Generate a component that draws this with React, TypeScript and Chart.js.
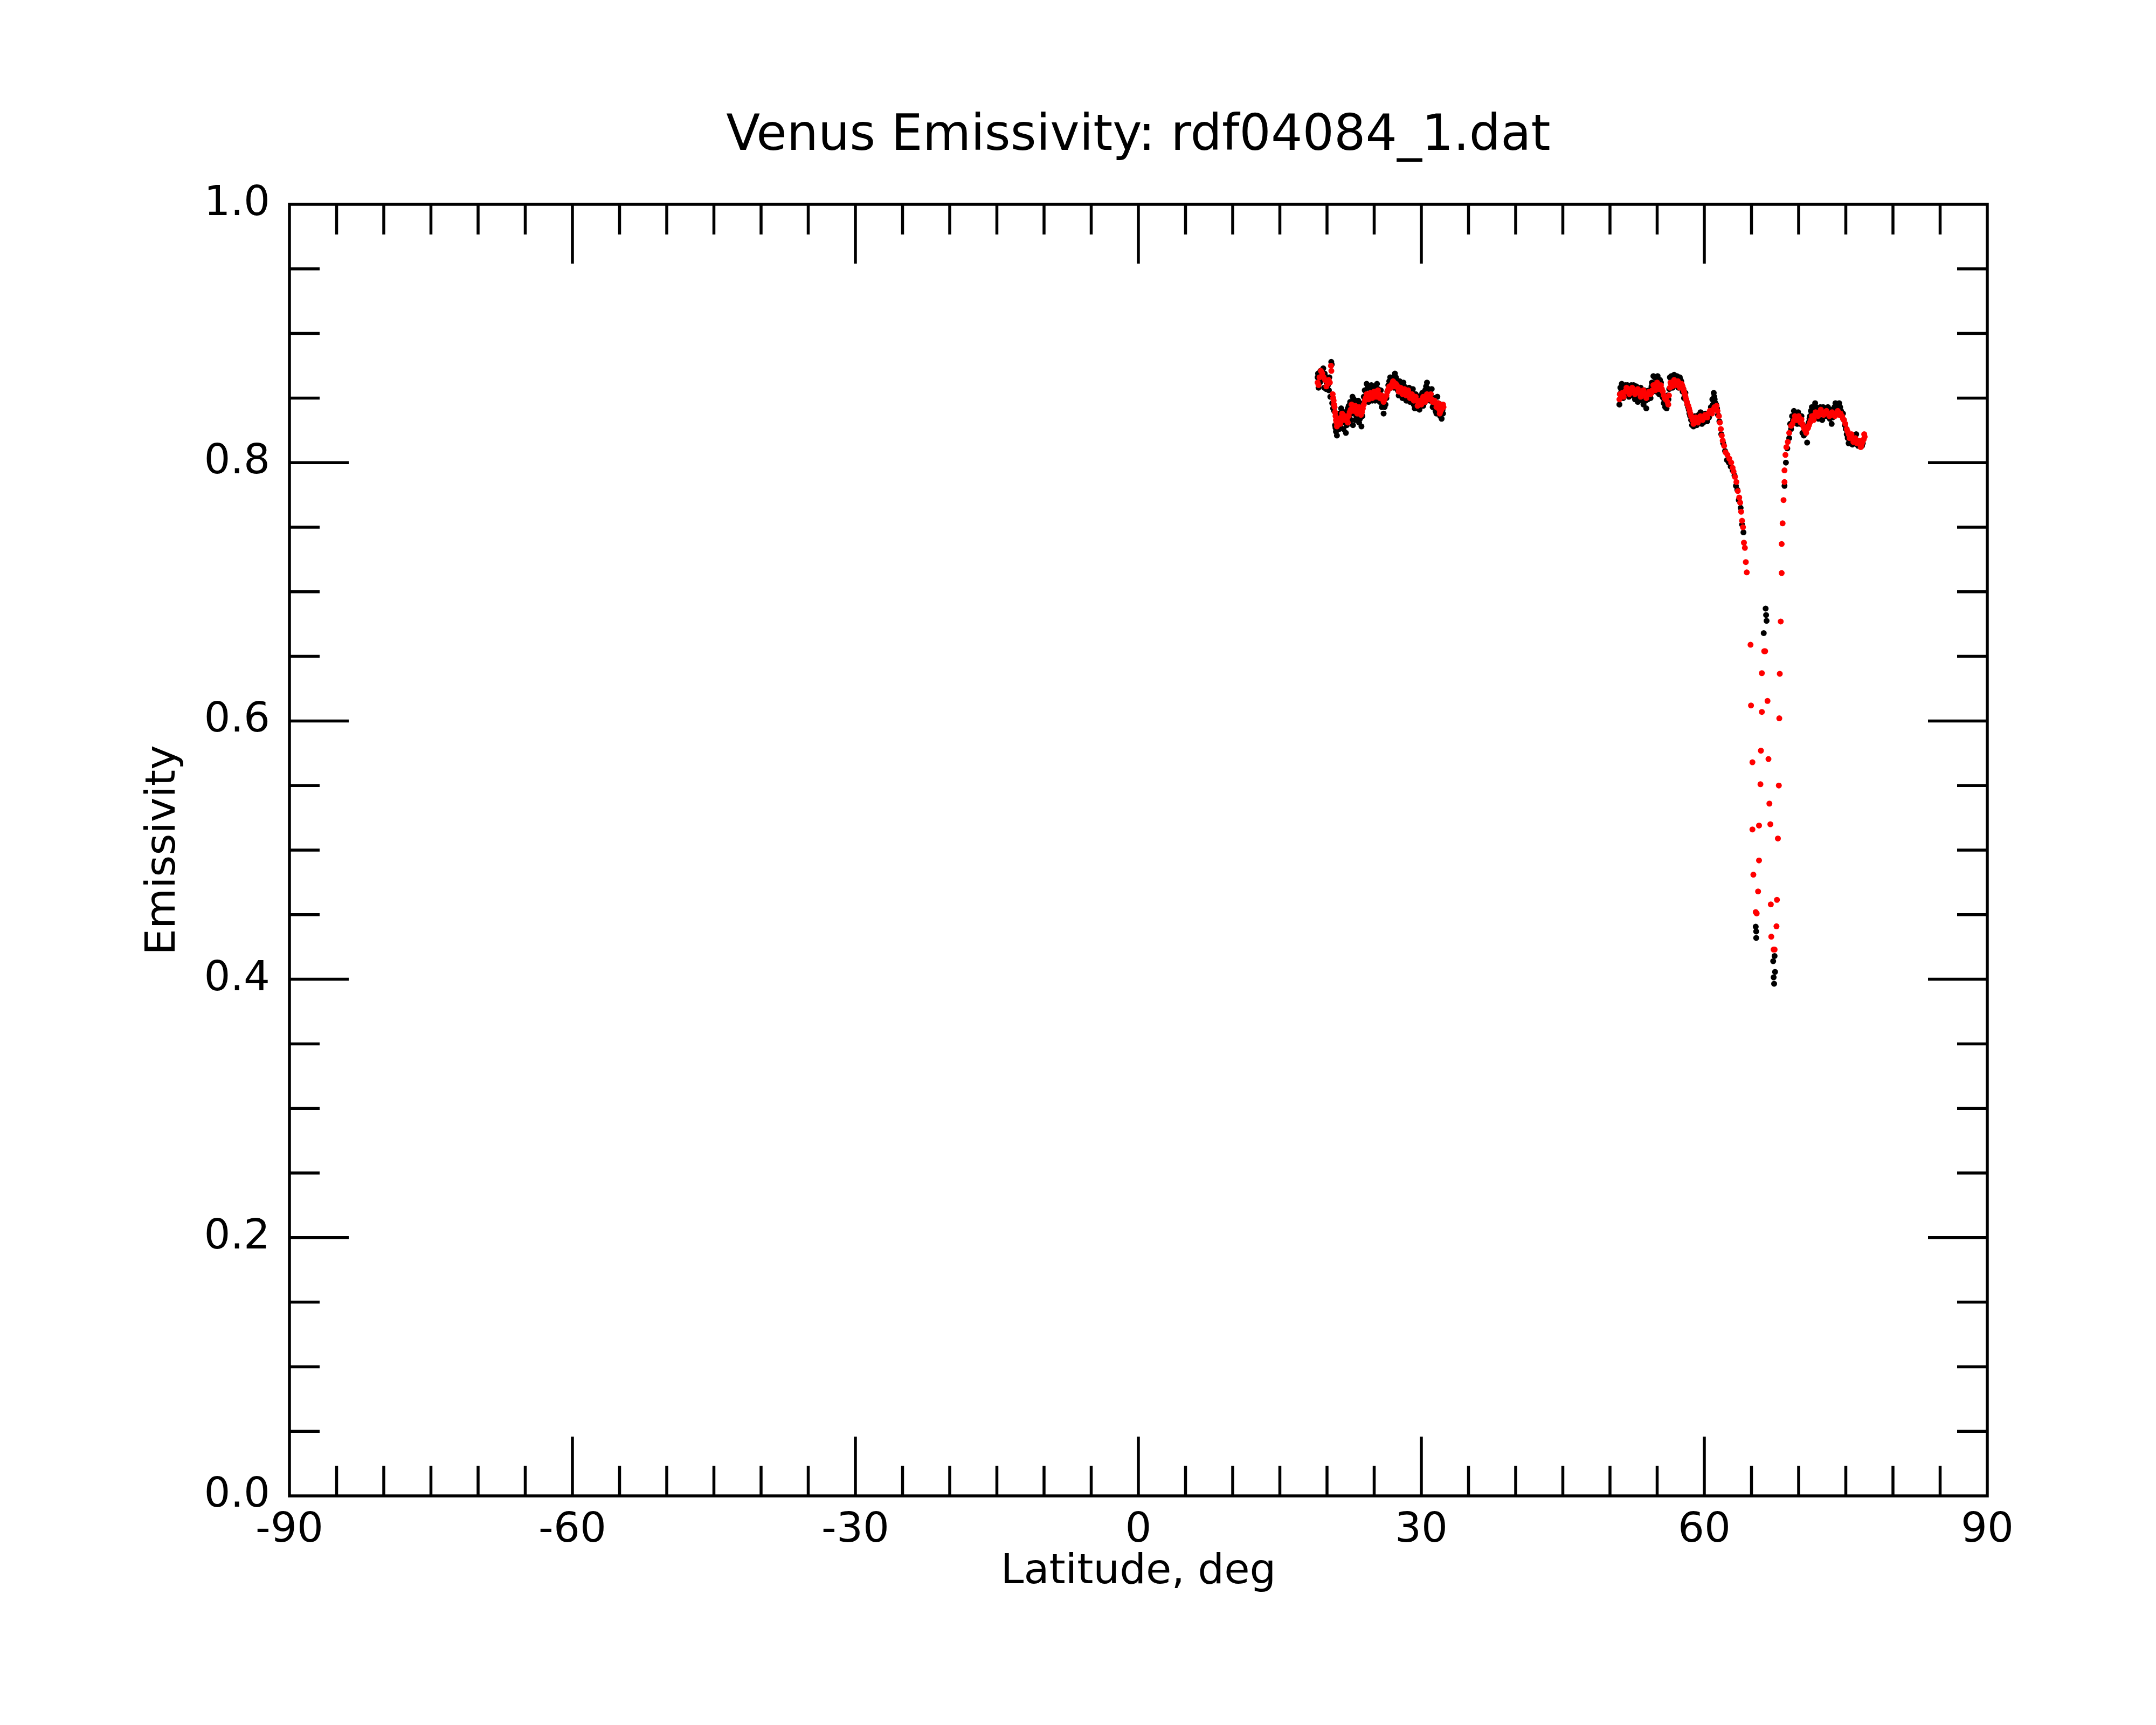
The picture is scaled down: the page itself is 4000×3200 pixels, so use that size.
import React, { useEffect, useRef } from "react";
import { Chart, registerables } from "chart.js";

Chart.register(...registerables);

const TITLE = "Venus Emissivity: rdf04084_1.dat";
const X_LABEL = "Latitude, deg";
const Y_LABEL = "Emissivity";

const X_MIN = -90;
const X_MAX = 90;
const X_MAJOR = 30;
const X_MINOR = 5;
const Y_MIN = 0;
const Y_MAX = 1;
const Y_MAJOR = 0.2;
const Y_MINOR = 0.05;

// Raw emissivity samples (black)
const rawLat = [
  19.0, 19.1, 19.3, 19.4, 19.6, 19.7, 19.9, 20.0, 20.2, 20.35, 20.45, 20.5, 20.55, 20.75, 20.85, 20.95,
  21.05, 21.15, 21.25, 21.4, 21.6, 21.75, 21.85, 22.0, 22.2, 22.35, 22.45, 22.6, 22.75, 22.85, 23.0, 23.2,
  23.4, 23.55, 23.65, 23.8, 24.0, 24.2, 24.4, 24.6, 24.8, 25.0, 25.2, 25.4, 25.6, 25.8, 26.0, 26.2,
  26.4, 26.6, 26.8, 27.0, 27.2, 27.4, 27.6, 27.8, 28.0, 28.2, 28.4, 28.6, 28.8, 29.0, 29.2, 29.4,
  29.6, 29.8, 30.0, 30.2, 30.4, 30.6, 30.8, 31.0, 31.2, 31.4, 31.6, 31.8, 32.0, 32.15, 32.3,
  51.0, 51.1, 51.25, 51.4, 51.55, 51.7, 51.85, 52.0, 52.15, 52.35, 52.5, 52.65, 52.8, 52.95, 53.1, 53.25,
  53.4, 53.55, 53.7, 53.85, 54.0, 54.15, 54.3, 54.45, 54.6, 54.75, 54.9, 55.05, 55.2, 55.4, 55.55, 55.7,
  55.85, 56.0, 56.2, 56.35, 56.5, 56.65, 56.8, 56.95, 57.1, 57.25, 57.4, 57.55, 57.7, 57.85, 58.0, 58.2,
  58.35, 58.5, 58.7, 58.85, 59.0, 59.2, 59.4, 59.6, 59.75, 59.9, 60.1, 60.3, 60.5, 60.7, 60.85, 61.0,
  61.1, 61.25, 61.45, 61.6, 61.8, 62.0, 62.2, 62.4, 62.6, 62.8, 63.0, 63.2, 63.35, 63.5, 63.65, 63.85,
  64.0, 64.15,
  66.3, 66.5, 66.55, 66.6, 65.45, 65.5, 65.5, 67.3, 67.5, 67.35, 67.4, 67.45,
  68.5, 68.65, 68.8, 69.0, 69.1, 69.3, 69.5, 69.7, 69.85, 70.0, 70.2, 70.4, 70.55, 70.7, 70.9, 71.05,
  71.2, 71.4, 71.6, 71.75, 71.9, 72.1, 72.3, 72.5, 72.7, 72.9, 73.1, 73.3, 73.5, 73.7, 73.9, 74.1,
  74.3, 74.5, 74.7, 74.9, 75.1, 75.3, 75.5, 75.7, 75.9, 76.1, 76.3, 76.5, 76.65, 76.8,
];
const rawEmis = [
  0.866, 0.858, 0.871, 0.864, 0.873, 0.858, 0.857, 0.866, 0.856, 0.851, 0.878, 0.876, 0.846, 0.84, 0.829, 0.824,
  0.821, 0.826, 0.838, 0.828, 0.84, 0.826, 0.831, 0.823, 0.842, 0.836, 0.847, 0.838, 0.829, 0.849, 0.833, 0.845,
  0.831, 0.838, 0.828, 0.846, 0.856, 0.861, 0.847, 0.857, 0.848, 0.859, 0.85, 0.857, 0.847, 0.843, 0.838, 0.845,
  0.855, 0.863, 0.858, 0.866, 0.869, 0.864, 0.852, 0.86, 0.85, 0.859, 0.848, 0.857, 0.847, 0.855, 0.845, 0.853,
  0.842, 0.841, 0.852, 0.844, 0.856, 0.862, 0.857, 0.853, 0.843, 0.85, 0.838, 0.846, 0.836, 0.834, 0.838,
  0.845, 0.858, 0.861, 0.85, 0.858, 0.852, 0.86, 0.851, 0.857, 0.852, 0.86, 0.849, 0.859, 0.847, 0.852, 0.858,
  0.848, 0.845, 0.851, 0.842, 0.849, 0.856, 0.85, 0.862, 0.867, 0.866, 0.855, 0.867, 0.853, 0.862, 0.851, 0.846,
  0.843, 0.842, 0.849, 0.866, 0.867, 0.858, 0.868, 0.86, 0.867, 0.858, 0.866, 0.863, 0.855, 0.85, 0.854, 0.845,
  0.841, 0.836, 0.829, 0.828, 0.836, 0.829, 0.837, 0.839, 0.83, 0.831, 0.838, 0.832, 0.835, 0.843, 0.849, 0.854,
  0.849, 0.845, 0.837, 0.832, 0.822, 0.815, 0.809, 0.802, 0.8, 0.797, 0.794, 0.79, 0.782, 0.779, 0.771, 0.765,
  0.752, 0.746,
  0.668, 0.687, 0.682, 0.6775, 0.4407, 0.432, 0.437, 0.414, 0.4057, 0.4015, 0.3965, 0.418,
  0.782, 0.8, 0.811, 0.819, 0.83, 0.836, 0.84, 0.838, 0.83, 0.836, 0.83, 0.823, 0.821, 0.827, 0.8155, 0.831,
  0.836, 0.843, 0.84, 0.846, 0.841, 0.834, 0.843, 0.833, 0.841, 0.836, 0.843, 0.834, 0.83, 0.84, 0.846, 0.843,
  0.846, 0.84, 0.838, 0.829, 0.822, 0.815, 0.816, 0.814, 0.821, 0.822, 0.813, 0.813, 0.814, 0.815,
];
// Additional raw samples between the above (black)
const rawLatB = [
  19.05, 19.25, 19.5, 19.75, 19.95, 20.1, 20.25, 20.65, 20.9, 21.1, 21.3, 21.5, 21.7, 21.95, 22.1, 22.3,
  22.55, 22.7, 22.95, 23.1, 23.3, 23.5, 23.75, 23.9, 24.1, 24.3, 24.5, 24.7, 24.9, 25.1, 25.3, 25.5,
  25.7, 25.9, 26.1, 26.3, 26.5, 26.7, 26.9, 27.1, 27.3, 27.5, 27.7, 27.9, 28.1, 28.3, 28.5, 28.7,
  28.9, 29.1, 29.3, 29.5, 29.7, 29.9, 30.1, 30.3, 30.5, 30.7, 30.9, 31.1, 31.3, 31.5, 31.7, 31.9,
  32.05, 32.25,
  51.05, 51.2, 51.35, 51.5, 51.65, 51.8, 51.95, 52.1, 52.25, 52.45, 52.6, 52.75, 52.9, 53.05, 53.2, 53.35,
  53.5, 53.65, 53.8, 53.95, 54.1, 54.25, 54.4, 54.55, 54.7, 54.85, 55.0, 55.15, 55.3, 55.5, 55.65, 55.8,
  55.95, 56.1, 56.28, 56.42, 56.58, 56.72, 56.88, 57.02, 57.18, 57.32, 57.48, 57.62, 57.78, 57.92, 58.1, 58.28,
  58.42, 58.6, 58.78, 58.92, 59.1, 59.3, 59.5, 59.68, 59.82, 60.0, 60.2, 60.4, 60.6, 60.78, 60.92, 61.05,
  61.18, 61.35,
  69.2, 69.4, 69.6, 69.8, 69.95, 70.1, 70.3, 70.45, 70.65, 70.8, 71.0, 71.15, 71.3, 71.5, 71.7, 71.85,
  72.0, 72.2, 72.4, 72.6, 72.8, 73.0, 73.2, 73.4, 73.6, 73.8, 74.0, 74.2, 74.4, 74.6, 74.8, 75.0,
  75.2, 75.4, 75.6, 75.8, 76.0, 76.2, 76.4, 76.58, 76.72,
];
const rawEmisB = [
  0.869, 0.862, 0.867, 0.869, 0.862, 0.86, 0.866, 0.842, 0.827, 0.831, 0.826, 0.842, 0.833, 0.839, 0.829, 0.844,
  0.833, 0.851, 0.846, 0.836, 0.848, 0.834, 0.836, 0.851, 0.852, 0.858, 0.853, 0.86, 0.855, 0.848, 0.861, 0.852,
  0.856, 0.85, 0.843, 0.85, 0.86, 0.866, 0.863, 0.858, 0.866, 0.856, 0.863, 0.853, 0.862, 0.852, 0.849, 0.858,
  0.851, 0.857, 0.842, 0.849, 0.851, 0.844, 0.854, 0.846, 0.859, 0.855, 0.848, 0.857, 0.845, 0.84, 0.851, 0.842,
  0.845, 0.841,
  0.853, 0.855, 0.859, 0.854, 0.86, 0.855, 0.857, 0.853, 0.86, 0.855, 0.853, 0.855, 0.851, 0.856, 0.852, 0.855,
  0.851, 0.856, 0.848, 0.853, 0.851, 0.856, 0.859, 0.855, 0.861, 0.859, 0.863, 0.858, 0.864, 0.855, 0.85, 0.848,
  0.846, 0.852, 0.857, 0.862, 0.865, 0.861, 0.865, 0.862, 0.864, 0.861, 0.864, 0.86, 0.857, 0.852, 0.848, 0.843,
  0.838, 0.833, 0.831, 0.834, 0.832, 0.835, 0.833, 0.836, 0.834, 0.836, 0.834, 0.837, 0.839, 0.841, 0.845, 0.851,
  0.846, 0.842,
  0.826, 0.833, 0.831, 0.836, 0.839, 0.833, 0.836, 0.829, 0.823, 0.826, 0.829, 0.834, 0.84, 0.837, 0.838, 0.843,
  0.838, 0.84, 0.838, 0.843, 0.839, 0.84, 0.838, 0.841, 0.835, 0.843, 0.84, 0.838, 0.843, 0.836, 0.833, 0.826,
  0.819, 0.818, 0.819, 0.817, 0.818, 0.816, 0.816, 0.815, 0.813,
];

// Smoothed emissivity (red)
const smoothLat = [
  19.0, 19.2, 19.5, 19.8, 20.06, 20.3, 20.42, 20.46, 20.6, 20.7, 20.8, 20.9, 21.0, 21.1, 21.3, 21.5,
  21.7, 21.9, 22.1, 22.3, 22.5, 22.7, 22.9, 23.1, 23.3, 23.5, 23.7, 23.9, 24.1, 24.3, 24.5, 24.7,
  24.9, 25.1, 25.3, 25.5, 25.7, 25.9, 26.1, 26.3, 26.5, 26.7, 26.9, 27.1, 27.3, 27.5, 27.7, 27.9,
  28.1, 28.3, 28.5, 28.7, 28.9, 29.1, 29.3, 29.5, 29.7, 29.9, 30.1, 30.3, 30.5, 30.7, 30.9, 31.1,
  31.3, 31.5, 31.7, 31.9, 32.05, 32.2, 32.3,
  51.0, 51.15, 51.3, 51.6, 51.9, 52.2, 52.5, 52.8, 53.1, 53.4, 53.7, 54.0, 54.3, 54.5, 54.7, 54.9,
  55.1, 55.3, 55.5, 55.7, 55.9, 56.1, 56.25, 56.35, 56.5, 56.7, 56.9, 57.1, 57.3, 57.5, 57.7, 57.85,
  58.0, 58.15, 58.3, 58.45, 58.6, 58.75, 58.95, 59.2, 59.45, 59.7, 59.95, 60.2, 60.45, 60.7, 60.95, 61.2,
  61.4, 61.55, 61.65, 61.75, 61.85, 61.95, 62.1, 62.25, 62.45, 62.65, 62.85, 63.0, 63.1, 63.25, 63.4, 63.55,
  63.7, 63.8, 63.9, 64.0, 64.1, 64.2, 64.3, 64.4, 64.5,
  64.9, 64.95, 65.1, 65.1, 65.2, 65.45, 65.55, 65.7, 65.8, 65.8, 65.95, 66.0, 66.1, 66.1, 66.35, 66.45,
  66.7, 66.8, 66.9, 67.0, 67.05, 67.1, 67.35, 67.45, 67.65, 67.7, 67.8, 67.9, 67.95, 68.0, 68.1, 68.2,
  68.2, 68.3, 68.4, 68.5, 68.5, 68.6, 68.7, 68.85, 69.0, 69.2, 69.5, 69.7, 69.9, 70.1, 70.3, 70.5,
  70.7, 70.9, 71.1, 71.3, 71.5, 71.7, 71.9, 72.2, 72.5, 72.8, 73.1, 73.4, 73.7, 74.0, 74.3, 74.6,
  74.8, 74.95, 75.1, 75.3, 75.5, 75.7, 75.9, 76.1, 76.3, 76.5, 76.65, 76.8, 76.9, 77.0,
];
const smoothEmis = [
  0.862, 0.866, 0.869, 0.864, 0.861, 0.862, 0.875, 0.871, 0.853, 0.848, 0.843, 0.836, 0.831, 0.829, 0.832, 0.835,
  0.836, 0.834, 0.833, 0.836, 0.841, 0.844, 0.843, 0.841, 0.84, 0.841, 0.839, 0.845, 0.85, 0.851, 0.851, 0.852,
  0.852, 0.853, 0.855, 0.853, 0.851, 0.849, 0.849, 0.852, 0.857, 0.859, 0.861, 0.862, 0.861, 0.858, 0.857, 0.856,
  0.855, 0.855, 0.854, 0.853, 0.852, 0.851, 0.85, 0.848, 0.846, 0.847, 0.849, 0.849, 0.85, 0.851, 0.851, 0.849,
  0.847, 0.846, 0.844, 0.841, 0.84, 0.843, 0.845,
  0.849, 0.852, 0.854, 0.855, 0.856, 0.856, 0.856, 0.855, 0.854, 0.854, 0.853, 0.853, 0.853, 0.856, 0.858, 0.86,
  0.86, 0.859, 0.857, 0.852, 0.849, 0.847, 0.852, 0.858, 0.861, 0.862, 0.863, 0.862, 0.861, 0.86, 0.859, 0.855,
  0.851, 0.847, 0.844, 0.84, 0.836, 0.833, 0.832, 0.833, 0.834, 0.835, 0.835, 0.836, 0.838, 0.84, 0.841, 0.842,
  0.84, 0.836, 0.831, 0.826, 0.821, 0.817, 0.813, 0.808, 0.806, 0.803, 0.8, 0.796, 0.793, 0.789, 0.785, 0.778,
  0.773, 0.769, 0.762, 0.755, 0.75, 0.738, 0.734, 0.723, 0.715,
  0.659, 0.612, 0.568, 0.516, 0.481, 0.452, 0.451, 0.468, 0.492, 0.519, 0.551, 0.577, 0.607, 0.637, 0.654, 0.654,
  0.6155, 0.5705, 0.536, 0.52, 0.458, 0.433, 0.423, 0.423, 0.441, 0.4615, 0.509, 0.55, 0.602, 0.6365, 0.677, 0.7145,
  0.737, 0.753, 0.771, 0.785, 0.794, 0.806, 0.812, 0.816, 0.823, 0.8285, 0.8326, 0.835, 0.835, 0.834, 0.8335, 0.828,
  0.825, 0.826, 0.829, 0.833, 0.835, 0.837, 0.838, 0.839, 0.839, 0.838, 0.838, 0.837, 0.837, 0.838, 0.837, 0.836,
  0.833, 0.83, 0.826, 0.822, 0.82, 0.819, 0.818, 0.817, 0.816, 0.814, 0.813, 0.817, 0.818, 0.82,
];
// Additional smoothed samples between the above (red)
const smoothLatB = [
  19.1, 19.35, 19.65, 19.93, 20.18, 20.65, 20.75, 20.85, 20.95, 21.05, 21.2, 21.4, 21.6, 21.8, 22.0, 22.2,
  22.4, 22.6, 22.8, 23.0, 23.2, 23.4, 23.6, 23.8, 24.0, 24.2, 24.4, 24.6, 24.8, 25.0, 25.2, 25.4,
  25.6, 25.8, 26.0, 26.2, 26.4, 26.6, 26.8, 27.0, 27.2, 27.4, 27.6, 27.8, 28.0, 28.2, 28.4, 28.6,
  28.8, 29.0, 29.2, 29.4, 29.6, 29.8, 30.0, 30.2, 30.4, 30.6, 30.8, 31.0, 31.2, 31.4, 31.6, 31.8,
  31.95, 32.12, 32.35,
  51.05, 51.45, 51.75, 52.05, 52.35, 52.65, 52.95, 53.25, 53.55, 53.85, 54.15, 54.4, 54.6, 54.8, 55.0, 55.2,
  55.4, 55.6, 55.8, 56.0, 56.18, 56.42, 56.6, 56.8, 57.0, 57.2, 57.4, 57.6, 57.78, 57.93, 58.08, 58.22,
  58.38, 58.52, 58.68, 58.85, 59.08, 59.32, 59.58, 59.82, 60.08, 60.32, 60.58, 60.82, 61.08, 61.3,
  69.35, 69.6, 69.8, 70.0, 70.2, 70.4, 70.6, 70.8, 71.0, 71.2, 71.4, 71.6, 71.8, 72.05, 72.35, 72.65,
  72.95, 73.25, 73.55, 73.85, 74.15, 74.45, 74.7, 75.2, 75.4, 75.6, 75.8, 76.0, 76.2, 76.4, 76.58, 76.72,
  76.95,
];
const smoothEmisB = [
  0.86, 0.871, 0.866, 0.859, 0.864, 0.85, 0.845, 0.839, 0.833, 0.828, 0.834, 0.83, 0.838, 0.833, 0.836, 0.831,
  0.839, 0.845, 0.84, 0.844, 0.838, 0.843, 0.837, 0.842, 0.848, 0.853, 0.849, 0.854, 0.85, 0.855, 0.851, 0.856,
  0.85, 0.852, 0.847, 0.851, 0.855, 0.859, 0.858, 0.863, 0.859, 0.86, 0.855, 0.858, 0.853, 0.857, 0.852, 0.856,
  0.85, 0.853, 0.848, 0.851, 0.844, 0.848, 0.845, 0.851, 0.847, 0.853, 0.849, 0.853, 0.847, 0.848, 0.843, 0.846,
  0.838, 0.841, 0.843,
  0.853, 0.851, 0.858, 0.853, 0.858, 0.853, 0.857, 0.851, 0.856, 0.85, 0.855, 0.854, 0.86, 0.856, 0.862, 0.857,
  0.86, 0.855, 0.85, 0.851, 0.845, 0.862, 0.859, 0.864, 0.86, 0.863, 0.858, 0.861, 0.857, 0.853, 0.849, 0.845,
  0.842, 0.838, 0.835, 0.83, 0.835, 0.831, 0.836, 0.833, 0.837, 0.835, 0.84, 0.838, 0.843, 0.844,
  0.83, 0.836, 0.833, 0.836, 0.831, 0.83, 0.826, 0.823, 0.827, 0.831, 0.836, 0.833, 0.839, 0.836, 0.841, 0.837,
  0.84, 0.836, 0.839, 0.836, 0.84, 0.838, 0.834, 0.824, 0.819, 0.822, 0.816, 0.819, 0.815, 0.817, 0.812, 0.815,
  0.822,
];

const FONT = "'DejaVu Sans', sans-serif";

const framePlugin = {
  id: "frameTicks",
  afterDraw(chart: any) {
    const { ctx, chartArea, scales } = chart;
    const { left, right, top, bottom } = chartArea;
    const xs = scales.x;
    const ys = scales.y;
    ctx.save();
    ctx.strokeStyle = "#000";
    ctx.lineWidth = 5.5;
    ctx.lineCap = "butt";
    ctx.beginPath();
    const nx = Math.round((X_MAX - X_MIN) / X_MINOR);
    const xPer = Math.round(X_MAJOR / X_MINOR);
    for (let i = 1; i < nx; i++) {
      const v = X_MIN + i * X_MINOR;
      const len = i % xPer === 0 ? 110 : 56;
      const px = xs.getPixelForValue(v);
      ctx.moveTo(px, bottom);
      ctx.lineTo(px, bottom - len);
      ctx.moveTo(px, top);
      ctx.lineTo(px, top + len);
    }
    const ny = Math.round((Y_MAX - Y_MIN) / Y_MINOR);
    const yPer = Math.round(Y_MAJOR / Y_MINOR);
    for (let i = 1; i < ny; i++) {
      const v = Y_MIN + i * Y_MINOR;
      const len = i % yPer === 0 ? 110 : 56;
      const py = ys.getPixelForValue(v);
      ctx.moveTo(left, py);
      ctx.lineTo(left + len, py);
      ctx.moveTo(right, py);
      ctx.lineTo(right - len, py);
    }
    ctx.stroke();
    ctx.strokeRect(left, top, right - left, bottom - top);
    ctx.restore();
  },
};

export default function App() {
  const ref = useRef<HTMLCanvasElement | null>(null);

  useEffect(() => {
    if (!ref.current) return;
    const rawPts = rawLat
      .map((x, i) => ({ x, y: rawEmis[i] }))
      .concat(rawLatB.map((x, i) => ({ x, y: rawEmisB[i] })));
    const smoothPts = smoothLat
      .map((x, i) => ({ x, y: smoothEmis[i] }))
      .concat(smoothLatB.map((x, i) => ({ x, y: smoothEmisB[i] })));
    const chart = new Chart(ref.current, {
      type: "scatter",
      data: {
        datasets: [
          {
            label: "smoothed",
            data: smoothPts,
            backgroundColor: "#ff0000",
            borderWidth: 0,
            pointRadius: 5.5,
            order: 0,
          },
          {
            label: "raw",
            data: rawPts,
            backgroundColor: "#000000",
            borderWidth: 0,
            pointRadius: 5.5,
            order: 1,
          },
        ],
      },
      plugins: [framePlugin],
      options: {
        animation: false,
        responsive: false,
        devicePixelRatio: 1,
        layout: { padding: { left: 0, right: 313, top: 0, bottom: 0 } },
        plugins: {
          legend: { display: false },
          tooltip: { enabled: false },
          title: {
            display: true,
            fullSize: false,
            text: TITLE,
            color: "#000",
            font: { family: FONT, size: 92, weight: "normal", lineHeight: 1.2 },
            padding: { top: 199, bottom: 69.6 },
          },
        },
        scales: {
          x: {
            type: "linear",
            position: "bottom",
            min: X_MIN,
            max: X_MAX,
            afterFit: (s: any) => {
              s.height = 425;
            },
            grid: { display: false, drawTicks: false },
            border: { display: false },
            ticks: {
              stepSize: X_MAJOR,
              color: "#000",
              padding: 19,
              maxRotation: 0,
              font: { family: FONT, size: 77 },
              callback: (v: any) => String(v),
            },
            title: {
              display: true,
              text: X_LABEL,
              color: "#000",
              font: { family: FONT, size: 77, lineHeight: 1.2 },
              padding: { top: 0, bottom: 237 },
            },
          },
          y: {
            type: "linear",
            position: "left",
            min: Y_MIN,
            max: Y_MAX,
            afterFit: (s: any) => {
              s.width = 537;
            },
            grid: { display: false, drawTicks: false },
            border: { display: false },
            ticks: {
              stepSize: Y_MAJOR,
              color: "#000",
              padding: 36,
              font: { family: FONT, size: 77 },
              callback: (v: any) => Number(v).toFixed(1),
            },
            title: {
              display: true,
              text: Y_LABEL,
              color: "#000",
              font: { family: FONT, size: 77, lineHeight: 1.2 },
              padding: { top: 258, bottom: 0 },
            },
          },
        },
      },
    } as any);
    return () => chart.destroy();
  }, []);

  return (
    <div style={{ position: "absolute", left: 0, top: 0, width: 4000, height: 3200, background: "#fff" }}>
      <canvas ref={ref} width={4000} height={3200} style={{ display: "block", width: 4000, height: 3200 }} />
    </div>
  );
}
